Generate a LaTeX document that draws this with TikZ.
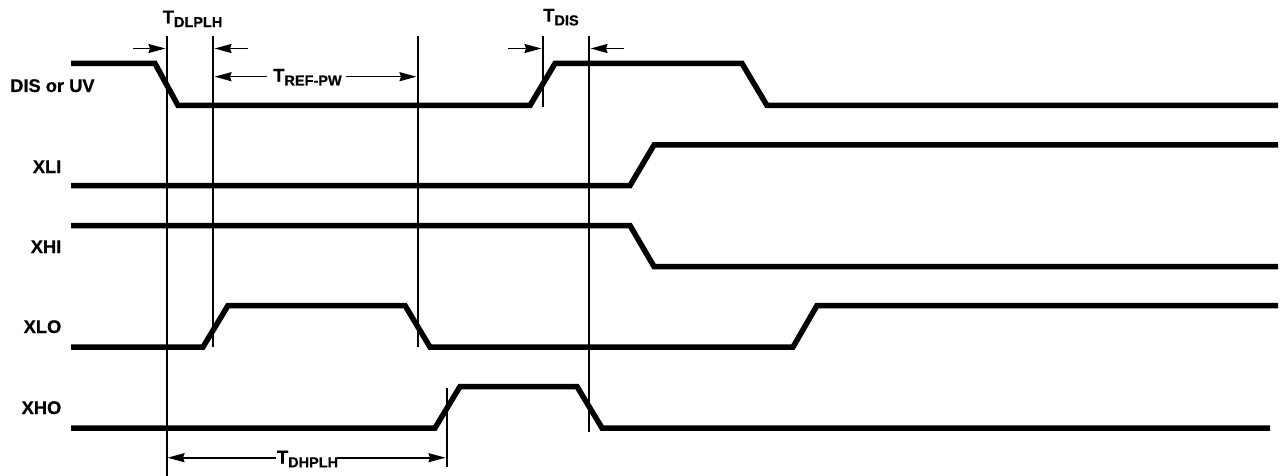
\documentclass[tikz,border=0pt]{standalone}
\usepackage{fontspec}
\setmainfont{Liberation Sans}[BoldFeatures={FakeBold=0.6}]
\usetikzlibrary{arrows.meta}
\newcommand\tlab[1]{{\fontsize{18.5}{18.5}\selectfont T}\raisebox{-3.8pt}{\fontsize{14.5}{14.5}\selectfont #1}}
\begin{document}
\begin{tikzpicture}[x=1pt,y=-1pt,
  sig/.style={line width=5.5pt,line join=miter,line cap=butt},
  vline/.style={line width=2pt},
  dim/.style={line width=1.6pt,-{Stealth[length=17pt,width=9pt,inset=1.5pt]}},
  siglab/.style={font=\bfseries\fontsize{18.3}{18.3}\selectfont,inner sep=0pt,anchor=base east},
  tlabel/.style={font=\bfseries,inner sep=0pt,anchor=base west}]
\useasboundingbox (0,0) rectangle (1282,476);

% signal labels
\node[siglab,anchor=base west] (lDIS) at (10,92) {DIS or UV};
\node[siglab] (lXLI) at (61.5,173) {XLI};
\node[siglab] (lXHI) at (61.5,253) {XHI};
\node[siglab] (lXLO) at (61.5,333) {XLO};
\node[siglab] (lXHO) at (61.5,414) {XHO};

% waveforms
\draw[sig] (71,63.5) -- (155,63.5) -- (178,105.5) -- (530,105.5) -- (555,63.5) -- (742,63.5) -- (767,105.5) -- (1278,105.5);
\draw[sig] (71,185.5) -- (630,185.5) -- (654,145) -- (1278,145);
\draw[sig] (71,225.5) -- (630,225.5) -- (654,266.5) -- (1278,266.5);
\draw[sig] (71,347) -- (203,347) -- (228,305.5) -- (405,305.5) -- (430,347) -- (793,347) -- (817,305.5) -- (1278,305.5);
\draw[sig] (71,428) -- (435,428) -- (460,386.5) -- (577,386.5) -- (602,428) -- (1270,428);

% reference lines
\coordinate (v1t) at (166.5,36);  \coordinate (v1b) at (166.5,476);
\coordinate (v2t) at (213.3,36);  \coordinate (v2b) at (213.3,347);
\coordinate (v3t) at (417.7,36);  \coordinate (v3b) at (417.7,347);
\coordinate (v4t) at (542.7,36);  \coordinate (v4b) at (542.7,107);
\coordinate (v5t) at (589.3,36);  \coordinate (v5b) at (589.3,432);
\coordinate (v6t) at (446.7,388); \coordinate (v6b) at (446.7,467);
\draw[vline] (v1t) -- (v1b);
\draw[vline] (v2t) -- (v2b);
\draw[vline] (v3t) -- (v3b);
\draw[vline] (v4t) -- (v4b);
\draw[vline] (v5t) -- (v5b);
\draw[vline] (v6t) -- (v6b);

% T_DLPLH
\node[tlabel] (tdlplh) at (162.5,23.3) {\tlab{DLPLH}};
\coordinate (a1s) at (133,48.5); \coordinate (a1e) at (165.5,48.5);
\coordinate (a2s) at (248,48.5); \coordinate (a2e) at (214.5,48.5);
\draw[dim] (a1s) -- (a1e);
\draw[dim] (a2s) -- (a2e);

% T_REF-PW
\node[tlabel] (trefpw) at (273,81.7) {\tlab{REF-PW}};
\coordinate (a3s) at (266.7,76.7); \coordinate (a3e) at (214.5,76.7);
\coordinate (a4s) at (346,76.7);   \coordinate (a4e) at (416.5,76.7);
\draw[dim] (a3s) -- (a3e);
\draw[dim] (a4s) -- (a4e);

% T_DIS
\node[tlabel] (tdis) at (543,21.6) {\tlab{DIS}};
\coordinate (a5s) at (508,48.5); \coordinate (a5e) at (541.5,48.5);
\coordinate (a6s) at (624,48.5); \coordinate (a6e) at (590.5,48.5);
\draw[dim] (a5s) -- (a5e);
\draw[dim] (a6s) -- (a6e);

% T_DHPLH
\node[tlabel] (tdhplh) at (276.7,463.5) {\tlab{DHPLH}};
\coordinate (a7s) at (276,457.7); \coordinate (a7e) at (167.5,457.7);
\coordinate (a8s) at (337,457.7); \coordinate (a8e) at (445.5,457.7);
\draw[dim] (a7s) -- (a7e);
\draw[dim] (a8s) -- (a8e);
\end{tikzpicture}
\end{document}
